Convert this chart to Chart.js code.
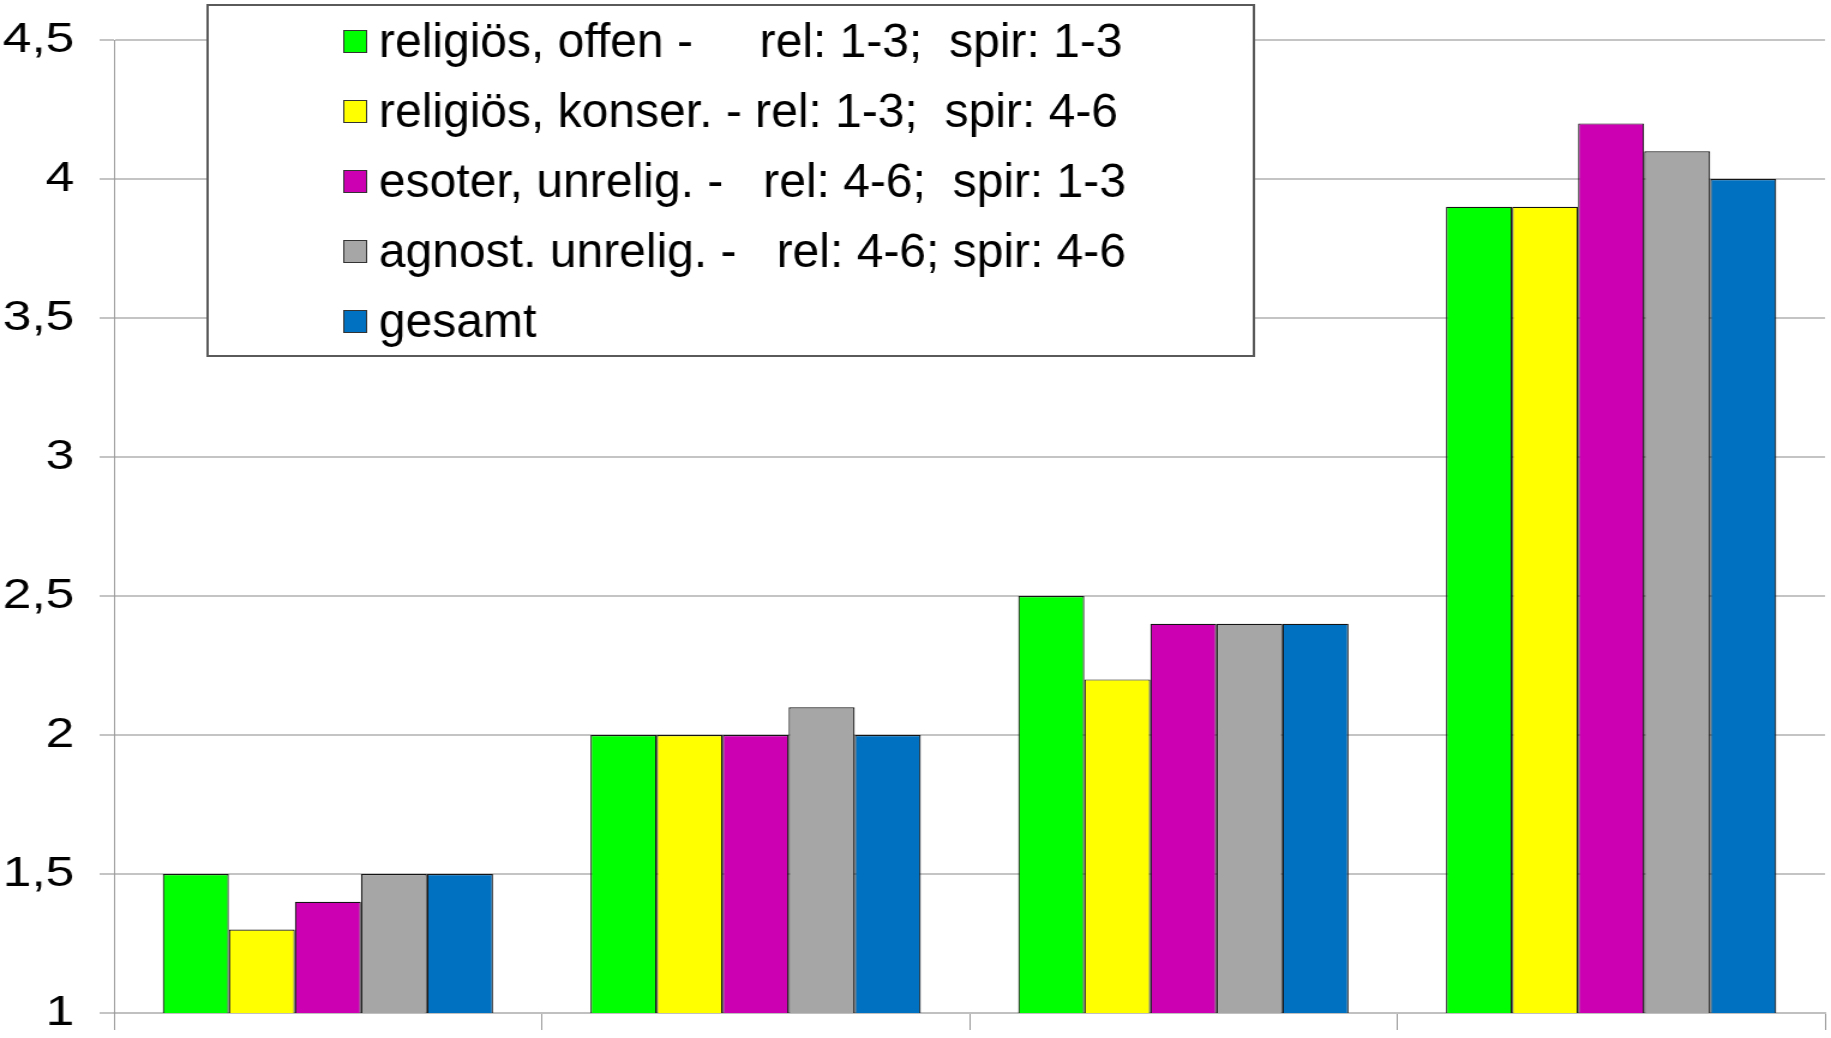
<!DOCTYPE html>
<html lang="de">
<head>
<meta charset="utf-8">
<title>Gruppenvergleich</title>
<script src="https://cdn.jsdelivr.net/npm/chart.js@4/dist/chart.umd.min.js"></script>
<style>
  html, body { margin: 0; padding: 0; background: #fff; overflow: hidden; }
  /* the drawing is made on a narrower canvas and widened, giving the broad axis numerals */
  #wrap { width: 1526px; height: 1038px; transform: scaleX(1.19987); transform-origin: 0 0; }
  #c { display: block; }
</style>
</head>
<body>
<div id="wrap"><canvas id="c"></canvas></div>
<script>
const WIDEN = 1831 / 1526;

// four unlabelled item groups
const categories = ['', '', '', ''];

const seriesNames = [
  'religiös, offen -     rel: 1-3;  spir: 1-3',
  'religiös, konser. - rel: 1-3;  spir: 4-6',
  'esoter, unrelig. -   rel: 4-6;  spir: 1-3',
  'agnost. unrelig. -   rel: 4-6; spir: 4-6',
  'gesamt'
];

const religioesOffen   = [1.5, 2.0, 2.5, 3.9];
const religioesKonser  = [1.3, 2.0, 2.2, 3.9];
const esoterUnrelig    = [1.4, 2.0, 2.4, 4.2];
const agnostUnrelig    = [1.5, 2.1, 2.4, 4.1];
const gesamt           = [1.5, 2.0, 2.4, 4.0];

const yTickLabels = ['1', '1,5', '2', '2,5', '3', '3,5', '4', '4,5'];

const colors = ['#00ff00', '#ffff00', '#cc00b2', '#a6a6a6', '#0070c0'];
const seriesValues = [religioesOffen, religioesKonser, esoterUnrelig, agnostUnrelig, gesamt];

const FONT = '"Liberation Sans", Arial, sans-serif';

// framed legend box drawn inside the plot, over the grid;
// its text is drawn at normal proportions (undoing the widening)
const boxedLegend = {
  id: 'boxedLegend',
  afterDraw(chart) {
    const ctx = chart.ctx;
    const x0 = 173, y0 = 5, x1 = 1045, y1 = 356;
    ctx.save();
    ctx.fillStyle = '#ffffff';
    ctx.fillRect(x0, y0, x1 - x0, y1 - y0);
    ctx.strokeStyle = '#5a5a5a';
    ctx.lineWidth = 2;
    ctx.strokeRect(x0, y0, x1 - x0, y1 - y0);
    chart.data.datasets.forEach((ds, i) => {
      const cy = 41.5 + i * 70;
      ctx.fillStyle = ds.backgroundColor;
      ctx.fillRect(286, cy - 11.5, 20, 23);
      ctx.strokeStyle = '#333';
      ctx.lineWidth = 1;
      ctx.strokeRect(286.5, cy - 11, 19, 22);
      ctx.save();
      ctx.translate(379 / WIDEN, 57 + i * 70);
      ctx.scale(1 / WIDEN, 1);
      ctx.font = '48px ' + FONT;
      ctx.textBaseline = 'alphabetic';
      ctx.textAlign = 'left';
      ctx.fillStyle = '#000';
      ctx.fillText(ds.label, 0, 0);
      ctx.restore();
    });
    ctx.restore();
  }
};

new Chart(document.getElementById('c'), {
  type: 'bar',
  data: {
    labels: categories,
    datasets: seriesNames.map((name, i) => ({
      label: name,
      data: seriesValues[i],
      backgroundColor: colors[i],
      borderColor: '#141414',
      borderWidth: 1.2,
      categoryPercentage: 0.772,
      barPercentage: 1.0
    }))
  },
  options: {
    responsive: true,
    maintainAspectRatio: false,
    devicePixelRatio: 1,
    animation: false,
    layout: { padding: { left: 0, right: 5, top: 40, bottom: 0 } },
    plugins: {
      legend: { display: false },
      tooltip: { enabled: false }
    },
    scales: {
      x: {
        grid: {
          offset: true,
          drawOnChartArea: false,
          drawTicks: true,
          tickLength: 17,
          color: '#999999',
          lineWidth: 1
        },
        border: { display: true, color: '#c0c0c0', width: 2 },
        ticks: { display: false },
        afterFit(s) { s.height = 25; }
      },
      y: {
        min: 1,
        max: 4.5,
        ticks: {
          stepSize: 0.5,
          color: '#000',
          padding: 21,
          font: { family: FONT, size: 43 },
          callback: (v, i) => yTickLabels[i]
        },
        grid: {
          color: '#c4c4c4',
          lineWidth: 2,
          tickLength: 12,
          drawTicks: true
        },
        border: { display: true, color: '#9a9a9a', width: 1 },
        afterFit(s) {
          s.width = 95;
          s.paddingTop = 0;
          s.paddingBottom = 0;
        }
      }
    }
  },
  plugins: [boxedLegend]
});
</script>
</body>
</html>
